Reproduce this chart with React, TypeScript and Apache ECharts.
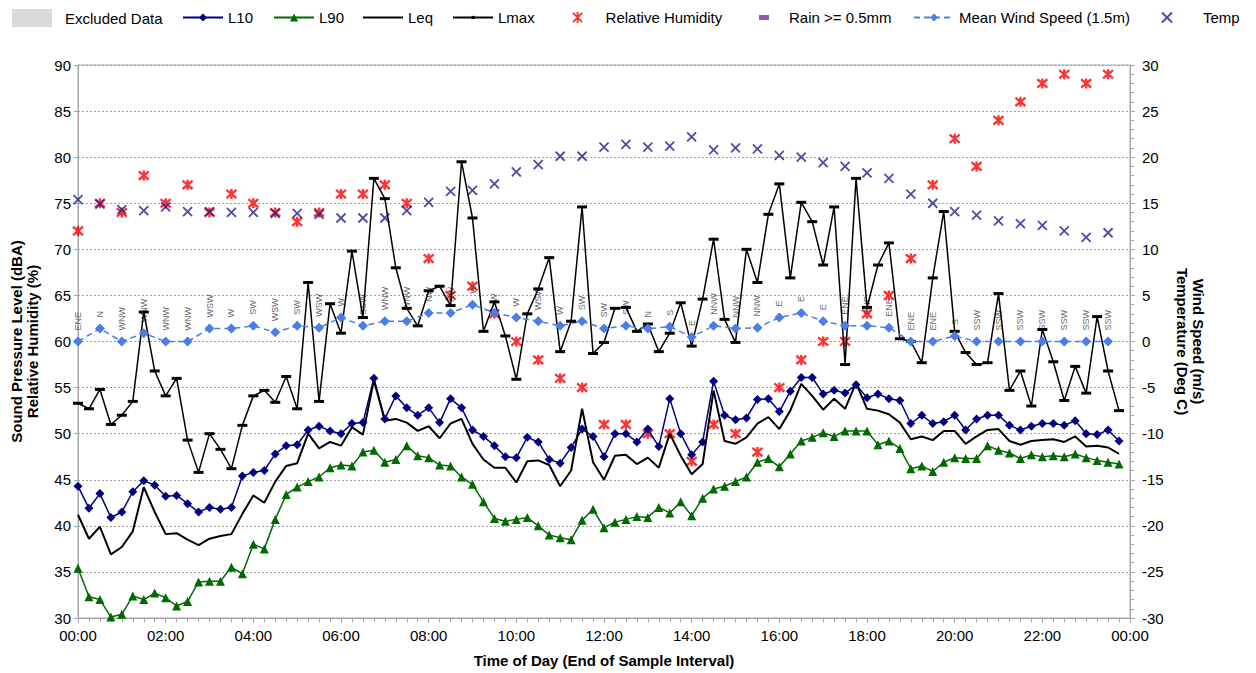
import { useEffect, useRef } from 'react'
import * as echarts from 'echarts'

// 15-minute samples, 00:00 .. 23:45
const L10 = [
  44.3, 41.9, 43.5, 40.9, 41.5, 43.7, 44.9, 44.4, 43.2, 43.3, 42.4, 41.5, 42.0, 41.8, 42.0, 45.4, 45.8, 46.0,
  47.8, 48.7, 48.8, 50.4, 50.8, 50.3, 50.0, 51.1, 51.2, 56.0, 51.6, 54.1, 52.8, 52.0, 52.8, 51.2, 53.8, 52.8,
  50.4, 49.7, 48.7, 47.5, 47.4, 49.6, 49.1, 47.2, 46.8, 48.5, 50.5, 49.7, 47.5, 50.0, 50.0, 49.1, 50.5,
  48.6, 53.8, 50.0, 47.7, 49.1, 55.7, 52.0, 51.5, 51.7, 53.7, 53.8, 52.4, 54.6, 56.1, 56.1, 54.3, 54.7,
  54.4, 55.3, 53.9, 54.3, 53.8, 53.6, 51.1, 52.0, 51.1, 51.3, 52.0, 50.4, 51.6, 52.0, 52.0, 50.9, 50.4, 50.8,
  51.1, 51.1, 50.9, 51.4, 50.0, 49.9, 50.4, 49.2,
]
const L90 = [
  35.4, 32.3, 32.0, 30.1, 30.4, 32.4, 32.0, 32.7, 32.2, 31.3, 31.8, 33.9, 34.0, 34.0, 35.5, 34.8, 38.0, 37.5,
  40.7, 43.4, 44.2, 44.8, 45.3, 46.3, 46.6, 46.5, 48.0, 48.2, 46.9, 47.2, 48.7, 47.6, 47.4, 46.6, 46.5, 45.3,
  44.5, 42.6, 40.8, 40.5, 40.7, 40.9, 40.0, 39.0, 38.7, 38.5, 40.6, 41.8, 39.8, 40.4, 40.7, 41.0, 40.9,
  42.0, 41.4, 42.6, 41.1, 43.0, 44.0, 44.3, 44.8, 45.3, 46.9, 47.3, 46.4, 47.8, 49.2, 49.6, 50.1, 49.7,
  50.3, 50.3, 50.3, 48.8, 49.2, 48.4, 46.2, 46.5, 45.9, 46.9, 47.4, 47.3, 47.3, 48.7, 48.2, 47.9, 47.3, 47.7,
  47.5, 47.6, 47.5, 47.8, 47.4, 47.1, 46.9, 46.7,
]
const LEQ = [
  41.2, 38.6, 39.9, 36.9, 37.7, 39.4, 44.2, 41.5, 39.1, 39.2, 38.5, 37.9, 38.6, 38.9, 39.1, 41.3, 43.3, 42.5,
  44.8, 46.5, 46.8, 50.0, 48.4, 49.1, 48.7, 50.7, 49.9, 55.8, 51.4, 51.6, 51.2, 50.3, 50.8, 49.5, 51.1, 51.6,
  48.9, 47.2, 46.3, 46.3, 44.7, 47.0, 47.1, 46.6, 44.3, 46.0, 52.7, 46.9, 45.0, 47.6, 47.7, 46.7, 47.4,
  46.3, 50.0, 47.6, 45.6, 46.7, 54.7, 49.2, 48.9, 49.6, 51.1, 51.8, 50.5, 52.5, 55.4, 54.1, 52.6, 53.8,
  52.7, 55.5, 52.7, 52.5, 52.1, 51.2, 49.4, 49.7, 49.3, 50.3, 50.3, 48.9, 49.7, 50.4, 50.5, 49.2, 48.8, 49.2,
  49.3, 49.4, 49.1, 49.7, 48.6, 48.7, 48.5, 47.8,
]
const LMAX = [
  53.3, 52.7, 54.8, 51.0, 52.0, 53.5, 63.2, 56.8, 54.1, 56.0, 49.3, 45.8, 50.0, 48.3, 46.2, 50.9, 54.1, 54.7,
  53.4, 56.2, 52.7, 66.4, 53.5, 64.1, 60.9, 69.8, 62.6, 77.7, 75.5, 68.0, 63.6, 61.7, 65.5, 66.0, 63.9, 79.5,
  73.4, 61.1, 64.3, 60.6, 55.9, 63.0, 65.7, 69.1, 58.9, 62.2, 74.6, 58.7, 59.9, 63.6, 63.7, 61.1, 61.9,
  58.9, 60.9, 64.2, 59.5, 64.6, 71.1, 62.4, 59.9, 70.0, 66.4, 73.8, 77.1, 66.9, 75.1, 73.0, 68.3, 74.6,
  57.5, 77.7, 63.7, 68.3, 70.7, 60.3, 60.0, 57.7, 66.9, 74.1, 61.1, 58.8, 57.5, 57.7, 65.2, 54.7, 56.8, 53.0,
  61.3, 57.8, 53.6, 57.3, 54.4, 62.7, 56.8, 52.5,
]

// 30-minute samples, 00:00 .. 23:30
const HUMIDITY = [
  72, 75, 74, 78, 75, 77, 74, 76, 75, 74, 73, 74, 76, 76, 77, 75,
  69, 65, 66, 63, 60, 58, 56, 55, 51, 51, 50, 50, 47, 51, 50, 48,
  55, 58, 60, 60, 63, 65, 69, 77, 82, 79, 84, 86, 88, 89, 88, 89,
]
const TEMP = [
  15.4, 14.9, 14.3, 14.2, 14.6, 14.1, 14.1, 14.0, 14.0, 13.9, 13.9, 13.8, 13.4, 13.4, 13.4, 14.2,
  15.1, 16.3, 16.4, 17.1, 18.4, 19.2, 20.1, 20.1, 21.1, 21.4, 21.1, 21.2, 22.2, 20.8, 21.0, 20.9,
  20.2, 20.0, 19.4, 19.0, 18.3, 17.7, 16.0, 15.0, 14.1, 13.7, 13.1, 12.8, 12.6, 12.0, 11.3, 11.8,
]
const WIND_SPEED = [
  0.0, 1.4, 0.0, 0.9, 0.0, 0.0, 1.4, 1.4, 1.7, 1.0, 1.7, 1.5, 2.6, 1.7, 2.2, 2.2,
  3.1, 3.1, 4.0, 3.1, 2.6, 2.2, 1.7, 2.2, 1.4, 1.7, 1.4, 1.6, 0.5, 1.7, 1.4, 1.5,
  2.6, 3.1, 2.2, 1.7, 1.7, 1.5, 0.0, 0.0, 0.6, 0.0, 0.0, 0.0, 0.0, 0.0, 0.0, 0.0,
]
const WIND_DIR = [
  'ENE', 'N', 'WNW', 'WNW', 'WNW', 'WNW', 'WSW', 'W', 'SW', 'WSW', 'SW', 'WSW', 'W', 'SSW', 'WNW', 'WNW',
  'NW', 'NW', 'W', 'W', 'W', 'WSW', 'W', 'SW', 'SW', 'SW', 'N', 'S', 'E', 'NNW', 'NNW', 'NNW',
  'E', 'E', 'E', 'ENE', 'ENE', 'ENE', 'ENE', 'ENE', 'S', 'SSW', 'SSW', 'SSW', 'SSW', 'SSW', 'SSW', 'SSW',
]

const FONT = '"Liberation Sans", Arial, sans-serif'
const AXIS_GREY = '#a6a6a6'
const STAR = 'path://M0,0L10,10M10,0L0,10M5,-1L5,11'
const CROSS = 'path://M0,0L10,10M10,0L0,10'

const quarter = (arr: number[]) => arr.map((v, i) => [i, v])
const half = (arr: number[]) => arr.map((v, k) => [k * 2, v])
const clock = (v: number) => String(Math.round(v / 4) % 24).padStart(2, '0') + ':00'

// one legend per entry so each can sit where the original puts it
function legendAt(name: string, left: number, itemWidth: number, extra: object = {}) {
  return {
    data: [name], left, top: 10, itemWidth, itemHeight: 10, padding: 0, selectedMode: false,
    textStyle: { fontSize: 15, color: '#000', fontFamily: FONT }, ...extra,
  }
}

export default function App() {
  const chartRef = useRef<HTMLDivElement>(null)

  useEffect(() => {
    if (!chartRef.current) return
    const chart = echarts.init(chartRef.current, undefined, { renderer: 'svg' })

    chart.setOption({
      animation: false,
      textStyle: { fontFamily: FONT },
      grid: {
        left: 78, right: 126, top: 65, bottom: 55, outerBoundsMode: 'none',
        show: true, borderColor: AXIS_GREY, borderWidth: 1,
      },
      legend: [
        legendAt('Excluded Data', 12, 40, {
          itemHeight: 18, top: 9, icon: 'rect',
          textStyle: { fontSize: 15, color: '#000', fontFamily: FONT, padding: [0, 0, 0, 8] },
        }),
        legendAt('L10', 182, 40),
        legendAt('L90', 273, 40),
        legendAt('Leq', 362, 40, { itemStyle: { opacity: 0 } }),
        legendAt('Lmax', 452, 40, { itemHeight: 4 }),
        legendAt('Relative Humidity', 572, 46, { itemHeight: 11 }),
        legendAt('Rain >= 0.5mm', 759, 40, { itemHeight: 5 }),
        legendAt('Mean Wind Speed (1.5m)', 913, 40),
        legendAt('Temp', 1161, 62, { itemHeight: 10 }),
      ],
      xAxis: {
        type: 'value', min: 0, max: 96, interval: 8,
        name: 'Time of Day (End of Sample Interval)', nameLocation: 'middle', nameGap: 35,
        nameTextStyle: { fontWeight: 'bold', fontSize: 15, color: '#000' },
        axisLine: { onZero: false, lineStyle: { color: AXIS_GREY } },
        axisTick: { length: 5, lineStyle: { color: AXIS_GREY } },
        minorTick: { show: true, splitNumber: 8, length: 4, lineStyle: { color: AXIS_GREY } },
        axisLabel: { formatter: clock, fontSize: 15, color: '#000', margin: 10, showMaxLabel: true },
        splitLine: { show: false },
      },
      yAxis: [
        {
          type: 'value', min: 30, max: 90, interval: 5, position: 'left',
          name: 'Sound Pressure Level (dBA)\nRelative Humidity (%)', nameLocation: 'middle', nameGap: 38, nameRotate: 90,
          nameTextStyle: { fontWeight: 'bold', fontSize: 15, color: '#000', lineHeight: 16 },
          axisLine: { show: true, lineStyle: { color: AXIS_GREY } },
          axisTick: { show: true, length: 4, lineStyle: { color: AXIS_GREY } },
          axisLabel: { fontSize: 15, color: '#000', margin: 7 },
          splitLine: { lineStyle: { color: '#a0a0a0', type: [2, 2] } },
        },
        {
          type: 'value', min: -30, max: 30, interval: 5, position: 'right',
          name: 'Wind Speed (m/s)\nTemperature (Deg C)', nameLocation: 'middle', nameGap: 36, nameRotate: -90,
          nameTextStyle: { fontWeight: 'bold', fontSize: 15, color: '#000', lineHeight: 16 },
          axisLine: { show: true, lineStyle: { color: AXIS_GREY } },
          axisTick: { show: true, length: 5, lineStyle: { color: AXIS_GREY } },
          minorTick: { show: true, splitNumber: 5, length: 4, lineStyle: { color: AXIS_GREY } },
          axisLabel: { fontSize: 15, color: '#000', margin: 12 },
          splitLine: { show: false },
        },
      ],
      series: [
        { name: 'Excluded Data', type: 'bar', data: [], itemStyle: { color: '#d9d9d9' } },
        {
          name: 'L10', type: 'line', data: quarter(L10), symbol: 'diamond', symbolSize: 9,
          itemStyle: { color: '#000080' }, lineStyle: { width: 1.5, color: '#000080' },
        },
        {
          name: 'L90', type: 'line', data: quarter(L90), symbol: 'triangle', symbolSize: 9,
          itemStyle: { color: '#006a00' }, lineStyle: { width: 1.5, color: '#006a00' },
        },
        {
          name: 'Leq', type: 'line', data: quarter(LEQ), symbol: 'none',
          itemStyle: { color: '#000' }, lineStyle: { width: 2, color: '#000' },
        },
        {
          name: 'Lmax', type: 'line', data: quarter(LMAX), symbol: 'rect', symbolSize: [10, 3],
          itemStyle: { color: '#000' }, lineStyle: { width: 1.5, color: '#000' },
        },
        {
          name: 'Relative Humidity', type: 'scatter', data: half(HUMIDITY), symbol: STAR, symbolSize: 10,
          itemStyle: { color: '#ff0000', borderColor: '#ff0000', borderWidth: 2.4 },
        },
        {
          name: 'Rain >= 0.5mm', type: 'scatter', data: [], symbol: 'path://M0,0h10v5h-10z', symbolSize: [8, 4],
          itemStyle: { color: '#7030a0' },
        },
        {
          name: 'Mean Wind Speed (1.5m)', type: 'line', yAxisIndex: 1, data: half(WIND_SPEED),
          symbol: 'diamond', symbolSize: 10,
          itemStyle: { color: '#4a7ee6' }, lineStyle: { width: 1.5, color: '#4a7ee6', type: [6, 4] },
        },
        {
          name: 'Temp', type: 'scatter', yAxisIndex: 1, data: half(TEMP), symbol: CROSS, symbolSize: 9,
          itemStyle: { color: '#1f1f8f', borderColor: '#1f1f8f', borderWidth: 1.8 },
        },
        {
          name: 'Wind Direction', type: 'scatter', yAxisIndex: 1, data: half(WIND_SPEED), symbolSize: 1,
          silent: true, itemStyle: { color: 'rgba(0,0,0,0)' },
          label: {
            show: true, formatter: (p: { dataIndex: number }) => WIND_DIR[p.dataIndex],
            rotate: 90, fontSize: 9, color: '#404040', position: 'inside',
            align: 'left', verticalAlign: 'middle', offset: [11, 0],
          },
        },
      ],
    })

    return () => chart.dispose()
  }, [])

  // absolutely placed so the chart covers the whole 1256x673 page without scrollbars
  return <div ref={chartRef} style={{ position: 'absolute', left: 0, top: 0, width: 1256, height: 673 }} />
}
